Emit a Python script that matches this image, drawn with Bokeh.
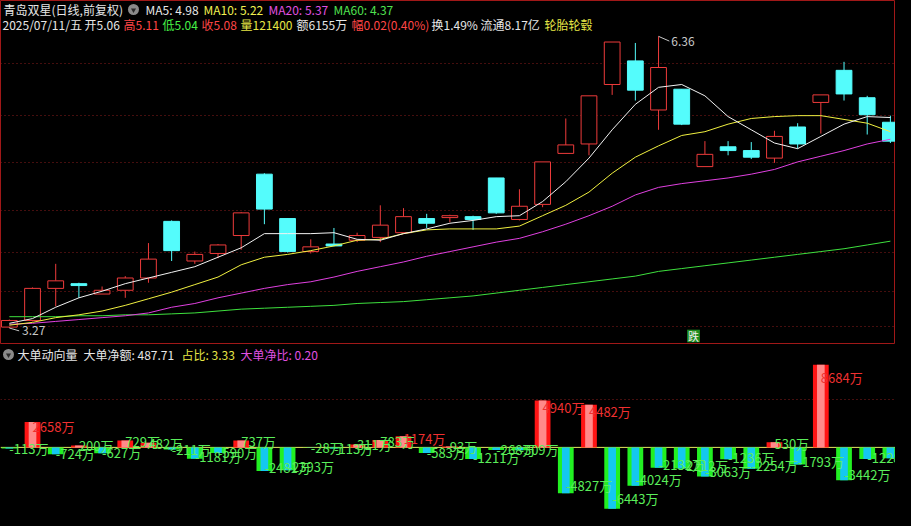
from bokeh.plotting import figure
from bokeh.layouts import column
from bokeh.models import ColumnDataSource, FixedTicker, Range1d, Grid, Span, GlobalInlineStyleSheet
from bokeh.core.properties import value
from bokeh.embed import file_html
from bokeh.resources import INLINE

# ---------------- data ----------------
opens  = [3.28, 3.35, 3.69, 3.74, 3.63, 3.67, 3.80, 4.40, 3.98, 4.06, 4.25, 4.90, 4.43, 4.08, 4.16, 4.20, 4.23, 4.28, 4.43, 4.44,
          4.45, 4.86, 4.42, 4.58, 5.12, 5.22, 5.85, 6.10, 5.58, 5.80, 4.98, 5.19, 5.15, 5.07, 5.40, 5.66, 6.00, 5.71, 5.45]
highs  = [3.36, 3.70, 3.95, 3.75, 3.71, 3.82, 4.17, 4.41, 4.08, 4.16, 4.50, 4.91, 4.43, 4.21, 4.33, 4.28, 4.57, 4.54, 4.48, 4.47,
          4.46, 4.86, 4.74, 5.03, 5.49, 5.73, 6.30, 6.29, 6.36, 5.80, 5.25, 5.25, 5.24, 5.36, 5.44, 5.74, 6.09, 5.73, 5.52]
lows   = [3.27, 3.34, 3.50, 3.59, 3.63, 3.59, 3.75, 3.98, 3.95, 4.01, 4.10, 4.37, 4.07, 4.06, 4.14, 4.18, 4.18, 4.27, 4.33, 4.39,
          4.31, 4.48, 4.41, 4.55, 5.12, 5.10, 5.74, 5.68, 5.37, 5.42, 4.98, 5.10, 5.06, 5.02, 5.17, 5.33, 5.68, 5.32, 5.23]
closes = [3.35, 3.69, 3.77, 3.72, 3.67, 3.80, 4.00, 4.09, 4.05, 4.15, 4.49, 4.53, 4.08, 4.13, 4.14, 4.25, 4.36, 4.45, 4.38, 4.46,
          4.42, 4.49, 4.56, 5.03, 5.21, 5.73, 6.30, 5.79, 6.03, 5.43, 5.11, 5.15, 5.08, 5.30, 5.22, 5.74, 5.75, 5.53, 5.25]

ma5  = [3.32, 3.37, 3.49, 3.59, 3.66, 3.74, 3.80, 3.86, 3.92, 4.02, 4.12, 4.27, 4.27, 4.27, 4.28, 4.21, 4.20, 4.27, 4.32, 4.38,
        4.41, 4.45, 4.46, 4.61, 4.82, 5.07, 5.37, 5.64, 5.82, 5.85, 5.73, 5.51, 5.37, 5.23, 5.17, 5.30, 5.43, 5.51, 5.50]
ma10 = [3.30, 3.33, 3.38, 3.41, 3.45, 3.51, 3.58, 3.65, 3.73, 3.81, 3.94, 4.02, 4.05, 4.09, 4.14, 4.20, 4.21, 4.27, 4.31, 4.32,
        4.32, 4.32, 4.35, 4.46, 4.57, 4.71, 4.91, 5.08, 5.20, 5.31, 5.35, 5.43, 5.49, 5.51, 5.52, 5.52, 5.48, 5.44, 5.35]
ma20 = [3.31, 3.32, 3.34, 3.36, 3.38, 3.40, 3.43, 3.49, 3.53, 3.59, 3.64, 3.69, 3.73, 3.76, 3.81, 3.87, 3.92, 3.97, 4.03, 4.08,
        4.13, 4.18, 4.22, 4.29, 4.37, 4.46, 4.56, 4.68, 4.76, 4.80, 4.83, 4.86, 4.90, 4.95, 5.03, 5.09, 5.15, 5.22, 5.27]
ma60 = [3.39, 3.39, 3.39, 3.40, 3.40, 3.41, 3.41, 3.42, 3.43, 3.45, 3.47, 3.48, 3.49, 3.50, 3.51, 3.53, 3.54, 3.55, 3.57, 3.59,
        3.61, 3.64, 3.67, 3.70, 3.73, 3.76, 3.79, 3.82, 3.87, 3.90, 3.93, 3.96, 3.99, 4.02, 4.05, 4.08, 4.11, 4.15, 4.19]

# big-order net amount (万)
big_net = [-113, 2658, -724, 200, -627, 729, 482, -211, -1181, -590, 737, -2481, -2393, -28, -113, 311, 783, 1174, -583, 93,
           -1211, -268, -309, 4940, -4827, 4482, -6443, -4024, -2132, -2212, -3063, -1236, -2254, 530, -1793, 8684, -3442, -1228, -1150]

price_grid = [6.07, 5.52, 5.02, 4.52, 4.07, 3.66, 3.29]
net_grid = [5000]

header1 = ["青岛双星(日线,前复权)", "MA5: 4.98", "MA10: 5.22", "MA20: 5.37", "MA60: 4.37"]
header2 = ["2025/07/11/五", "开5.06", "高5.11", "低5.04", "收5.08", "量121400", "额6155万", "幅0.02(0.40%)",
           "换1.49%", "流通8.17亿", "轮胎轮毂"]
sub_header = ["大单动向量", "大单净额: 487.71", "占比: 3.33", "大单净比: 0.20"]
signal_text = "跌"

# ---------------- layout helpers ----------------
W, H_TOP, H_BOT = 895, 344, 166
REF_W, REF_SPLIT, REF_H = 911, 355, 526
STEP = 23.6
def fx(px):                       # reference pixel x -> bar index
    return (px - 9) / STEP
def fy(py):                       # reference pixel y -> price
    return 3.27 + (338 - py) * 0.010266
def fy2(py):                      # reference pixel y -> amount (万)
    return (461 - py) * 102.0
def fxs(px):                      # unscaled screen x (for texts)
    return fx(px * REF_W / W)
def fys(py):
    return fy(py * REF_SPLIT / H_TOP)
def fy2s(py):
    return fy2(REF_SPLIT + (py - REF_SPLIT) * (REF_H - REF_SPLIT) / H_BOT)

FONT = value("Noto Sans CJK SC")
RED, CYAN = "#ee3b3b", "#54fcfc"

n = len(opens)
idx = list(range(n))

top = figure(width=W, height=H_TOP, x_range=Range1d(fx(0), fx(REF_W)), y_range=Range1d(fy(REF_SPLIT), fy(0)),
             output_backend="svg", toolbar_location=None, tools="", x_axis_location=None, y_axis_location=None,
             min_border=0, background_fill_color="black", border_fill_color="black",
             outline_line_color="#a01818", outline_line_width=1)
top.xgrid.visible = False
top.ygrid.visible = False
top.add_layout(Grid(dimension=1, ticker=FixedTicker(ticks=price_grid), grid_line_color="#8a1c1c",
                    grid_line_dash="1 3", grid_line_width=1))

up = [i for i in idx if closes[i] > opens[i]]
dn = [i for i in idx if closes[i] <= opens[i]]
src_up = ColumnDataSource(dict(x=up, o=[opens[i] for i in up], c=[closes[i] for i in up],
                               h=[highs[i] for i in up], l=[lows[i] for i in up]))
src_dn = ColumnDataSource(dict(x=dn, o=[opens[i] for i in dn], c=[closes[i] for i in dn],
                               h=[highs[i] for i in dn], l=[lows[i] for i in dn]))
top.segment(x0="x", y0="c", x1="x", y1="h", source=src_up, line_color=RED, line_width=1)
top.segment(x0="x", y0="l", x1="x", y1="o", source=src_up, line_color=RED, line_width=1)
top.vbar(x="x", top="c", bottom="o", width=0.68, source=src_up, fill_color="black", line_color=RED, line_width=1)
top.segment(x0="x", y0="h", x1="x", y1="l", source=src_dn, line_color=CYAN, line_width=1)
top.vbar(x="x", top="o", bottom="c", width=0.68, source=src_dn, fill_color=CYAN, line_color=CYAN, line_width=1)

for series, col in [(ma60, "#3ee03e"), (ma20, "#e040e0"), (ma10, "#f0f040"), (ma5, "#f2f2f2")]:
    top.line(idx, series, line_color=col, line_width=1)

# extremes annotations
imax = highs.index(max(highs))
imin = lows.index(min(lows))
top.segment(x0=[imax, imin], y0=[highs[imax], lows[imin]],
            x1=[imax + 11 / STEP, imin + 10 / STEP], y1=[highs[imax] - 0.05, lows[imin] - 0.03],
            line_color="#c8c8c8", line_width=1)
top.text(x=[imax + 13 / STEP, imin + 13 / STEP], y=[highs[imax] - 0.055, lows[imin] - 0.025],
         text=[f"{max(highs):.2f}", f"{min(lows):.2f}"], text_color="#c8c8c8", text_font=FONT,
         text_font_size="12px", text_baseline="middle", text_align="left")

# header lines
h1_x = [3, 145, 203, 268, 333]
h1_c = ["#e6e6e6", "#e6e6e6", "#f0f050", "#e050e0", "#50e050"]
h2_x = [2, 84, 123, 162, 201, 240, 296, 351, 431, 480, 544]
h2_c = ["#e6e6e6", "#e6e6e6", "#ff4646", "#46f046", "#ff4646", "#e6e646", "#e6e6e6", "#ff4646",
        "#e6e6e6", "#e6e6e6", "#e6e646"]
hdr = ColumnDataSource(dict(x=[fxs(v) for v in h1_x] + [fxs(v) for v in h2_x],
                            y=[fys(9)] * len(h1_x) + [fys(24)] * len(h2_x),
                            t=header1 + header2, c=h1_c + h2_c))
top.text(x="x", y="y", text="t", text_color="c", source=hdr, text_font=FONT, text_font_size="12px",
         text_baseline="middle", text_align="left")
top.scatter(x=[fxs(133)], y=[fys(9)], size=11, marker="circle", fill_color="#8a8a8a", line_color=None)
top.scatter(x=[fxs(133)], y=[fys(9.5)], size=5, marker="inverted_triangle", fill_color="#2a2a2a", line_color=None)

# signal box
top.rect(x=[fxs(693)], y=[fys(335.5)], width=13 / STEP, height=13 * 0.010266, fill_color="#1e8c1e", line_color=None)
top.text(x=[fxs(693)], y=[fys(335.5)], text=[signal_text], text_color="#f0f0f0", text_font=FONT,
         text_font_size="11px", text_baseline="middle", text_align="center")

# ---------------- lower panel ----------------
bot = figure(width=W, height=H_BOT, x_range=top.x_range, y_range=Range1d(fy2(REF_H), fy2(REF_SPLIT)),
             output_backend="svg", toolbar_location=None, tools="", x_axis_location=None, y_axis_location=None,
             min_border=0, background_fill_color="black", border_fill_color="black", outline_line_color=None)
bot.xgrid.visible = False
bot.ygrid.visible = False
bot.add_layout(Grid(dimension=1, ticker=FixedTicker(ticks=net_grid), grid_line_color="#8a1c1c",
                    grid_line_dash="1 3", grid_line_width=1))
bot.add_layout(Span(location=0, dimension="width", line_color="#e8e860", line_width=1, level="underlay"))

bars = ColumnDataSource(dict(
    x=idx, v=big_net,
    outer=["#ff1414" if v > 0 else "#22f022" for v in big_net],
    inner=["#ff8a8a" if v > 0 else "#14c8f0" for v in big_net],
    ly=[0.84 * v for v in big_net],
    lt=[f"{v}万" for v in big_net],
    lc=["#f03030" if v >= 1000 else "#5aee5a" for v in big_net],
))
bot.vbar(x="x", top="v", bottom=0, width=0.68, fill_color="outer", line_color=None, source=bars)
bot.vbar(x="x", top="v", bottom=0, width=0.33, fill_color="inner", line_color=None, source=bars)
bot.text(x="x", y="ly", text="lt", text_color="lc", source=bars, text_font=FONT, text_font_size="13px",
         text_baseline="middle", text_align="left")

sub_x = [17, 83, 181, 240]
sub_c = ["#e6e6e6", "#e6e6e6", "#e6e646", "#e050e0"]
bot.text(x=[fxs(v) for v in sub_x], y=[fy2s(365)] * 4, text=sub_header, text_color=sub_c, text_font=FONT,
         text_font_size="12px", text_baseline="middle", text_align="left")
bot.scatter(x=[fxs(8)], y=[fy2s(365)], size=11, marker="circle", fill_color="#8a8a8a", line_color=None)
bot.scatter(x=[fxs(8)], y=[fy2s(365.5)], size=5, marker="inverted_triangle", fill_color="#2a2a2a", line_color=None)

layout = column(top, bot, spacing=0,
                stylesheets=[GlobalInlineStyleSheet(css="html, body { background: #000000; }")])

open("out.html", "w").write(file_html(layout, INLINE))
